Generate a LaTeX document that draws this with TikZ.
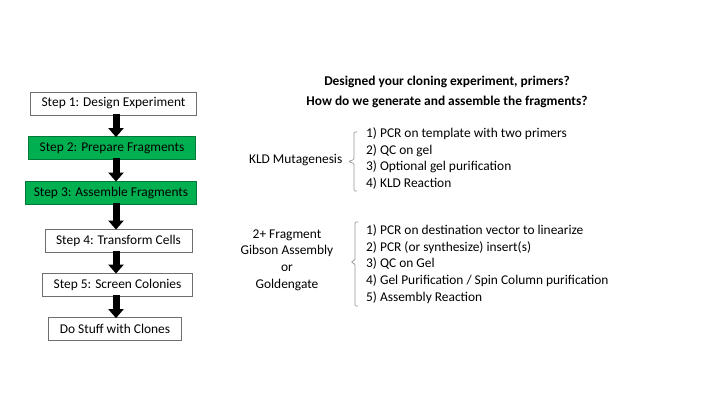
\documentclass[tikz,border=0pt]{standalone}
\usepackage{fontspec}
\setmainfont{Carlito}
\usetikzlibrary{arrows.meta}
\definecolor{stepgreen}{RGB}{0,176,80}
\definecolor{stepgreenline}{RGB}{0,120,60}
\definecolor{boxline}{RGB}{110,110,110}
\definecolor{brace}{RGB}{150,150,150}
\begin{document}
\begin{tikzpicture}[x=1pt,y=-1pt,
  every node/.style={font=\fontsize{13.4}{16.7}\selectfont, inner sep=0pt},
  stepbox/.style={draw=boxline, line width=0.8pt, fill=white, minimum height=23pt, inner xsep=11pt},
  greenbox/.style={stepbox, draw=stepgreenline, fill=stepgreen},
  blockarrow/.style={line width=7pt, -{Triangle[width=15pt 0,length=9pt 0]}, shorten >=0pt},
  bracepath/.style={draw=brace, line width=0.7pt, rounded corners=1pt},
  txt/.style={align=left}
]
\useasboundingbox (0,0) rectangle (720,405);

% left flow
\node[stepbox]  (b1) at (113.5,103.5) {Step 1: Design Experiment};
\node[greenbox] (b2) at (112,148)   {Step 2: Prepare Fragments};
\node[greenbox, inner xsep=8pt] (b3) at (111,192.5) {Step 3: Assemble Fragments};
\node[stepbox]  (b4) at (118.5,240.5) {Step 4: Transform Cells};
\node[stepbox]  (b5) at (117.5,284.5) {Step 5: Screen Colonies};
\node[stepbox]  (b6) at (115,329)   {Do Stuff with Clones};

\coordinate (ax) at (116,0);
\draw[blockarrow] ([yshift=1.5pt]b1.south -| ax) -- ([yshift=-1pt]b2.north -| ax);
\draw[blockarrow] ([yshift=1.5pt]b2.south -| ax) -- ([yshift=-1pt]b3.north -| ax);
\draw[blockarrow] ([yshift=1.5pt]b3.south -| ax) -- ([yshift=-1pt]b4.north -| ax);
\draw[blockarrow] ([yshift=1.5pt]b4.south -| ax) -- ([yshift=-1pt]b5.north -| ax);
\draw[blockarrow] ([yshift=1.5pt]b5.south -| ax) -- ([yshift=-1pt]b6.north -| ax);

% title
\node[font=\fontsize{13.4}{20}\selectfont\bfseries, align=center] (title) at (447,92)
  {Designed your cloning experiment, primers?\\How do we generate and assemble the fragments?};

% KLD
\node[anchor=east] (kld) at (342.5,160.5) {KLD Mutagenesis};
\node[txt, anchor=west] (kldlist) at (366,158.5)
  {1) PCR on template with two primers\\2) QC on gel\\3) Optional gel purification\\4) KLD Reaction};
\draw[bracepath] (357,132) -- (354,132) -- (354,159.5) -- (348.5,161.5) -- (354,163.5) -- (354,191) -- (357,191);

% Gibson
\node[align=center] (gib) at (287,260)
  {2+ Fragment\\Gibson Assembly\\or\\Goldengate};
\node[txt, anchor=west] (giblist) at (366,264)
  {1) PCR on destination vector to linearize\\2) PCR (or synthesize) insert(s)\\3) QC on Gel\\4) Gel Purification / Spin Column purification\\5) Assembly Reaction};
\draw[bracepath] (358,222) -- (355,222) -- (355,260) -- (351,262) -- (355,264) -- (355,306) -- (358,306);
\end{tikzpicture}
\end{document}
